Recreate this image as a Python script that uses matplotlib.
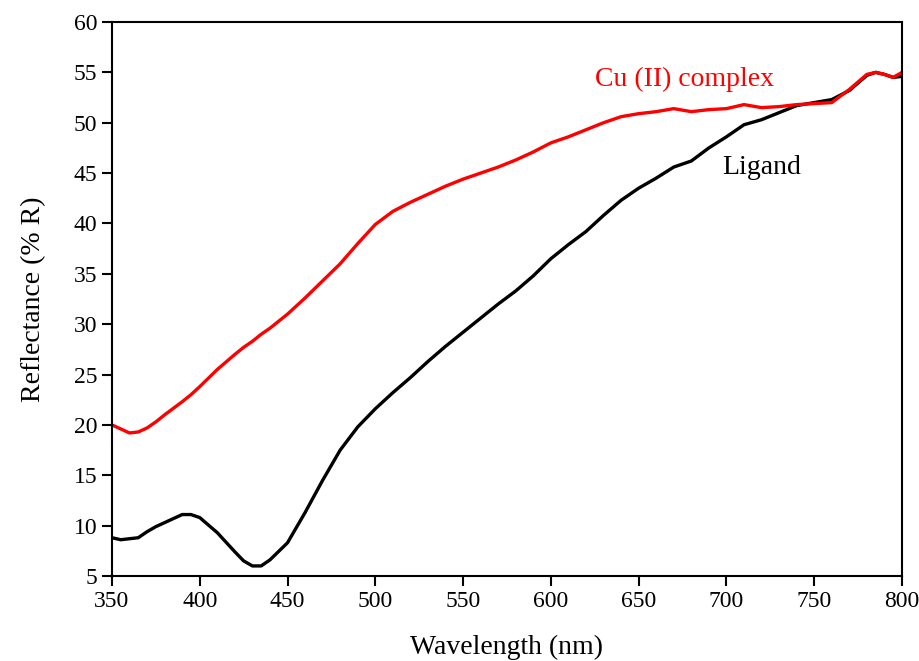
import matplotlib
matplotlib.use("Agg")
import matplotlib.pyplot as plt

plt.rcParams['font.family'] = ['Liberation Serif', 'DejaVu Serif']

wavelength = [350, 355, 360, 365, 370, 375, 380, 390, 395, 400, 410, 420, 425, 430, 435,
              440, 450, 460, 470, 480, 490, 500, 510, 520, 530, 540, 550, 560, 570, 580,
              590, 600, 610, 620, 630, 640, 650, 660, 670, 680, 690, 700, 710, 720, 730,
              740, 750, 760, 770, 780, 785, 790, 795, 800]

complex_r = [20.0, 19.6, 19.2, 19.3, 19.7, 20.3, 21.0, 22.3, 23.0, 23.8, 25.5, 27.0, 27.7, 28.3, 29.0,
             29.6, 31.0, 32.6, 34.3, 36.0, 38.0, 39.9, 41.2, 42.1, 42.9, 43.7, 44.4, 45.0, 45.6, 46.3,
             47.1, 48.0, 48.6, 49.3, 50.0, 50.6, 50.9, 51.1, 51.4, 51.1, 51.3, 51.4, 51.8, 51.5, 51.6,
             51.8, 51.9, 52.0, 53.3, 54.8, 55.0, 54.8, 54.5, 55.0]

ligand_r = [8.8, 8.6, 8.7, 8.8, 9.4, 9.9, 10.3, 11.1, 11.1, 10.8, 9.3, 7.4, 6.5, 6.0, 6.0,
            6.6, 8.3, 11.3, 14.5, 17.5, 19.8, 21.6, 23.2, 24.7, 26.3, 27.8, 29.2, 30.6, 32.0, 33.3,
            34.8, 36.5, 37.9, 39.2, 40.8, 42.3, 43.5, 44.5, 45.6, 46.2, 47.5, 48.6, 49.8, 50.3, 51.0,
            51.7, 52.0, 52.3, 53.2, 54.7, 55.0, 54.8, 54.5, 54.6]

fig = plt.figure(figsize=(9.2, 6.61), dpi=100)
ax = fig.add_axes([0.1217, 0.1286, 0.8587, 0.8381])

ax.plot(wavelength, ligand_r, color='black', lw=2.4)
ax.plot(wavelength, complex_r, color='red', lw=2.4)

# curve labels
ax.text(676, 54.3, 'Cu (II) complex', color='red', fontsize=20, ha='center', va='center')
ax.text(720, 45.6, 'Ligand', color='black', fontsize=20, ha='center', va='center')

ax.set_xlim(350, 800)
ax.set_ylim(5, 60)
ax.set_xticks(range(350, 801, 50))
ax.set_yticks(range(5, 61, 5))
ax.tick_params(direction='out', length=7, width=1.5, labelsize=17, top=False, right=False)
for s in ax.spines.values():
    s.set_linewidth(1.5)

ax.set_xlabel('Wavelength (nm)', fontsize=20, labelpad=17)
ax.set_ylabel('Reflectance (% R)', fontsize=20, labelpad=20)

fig.savefig('out.png', dpi=100)
